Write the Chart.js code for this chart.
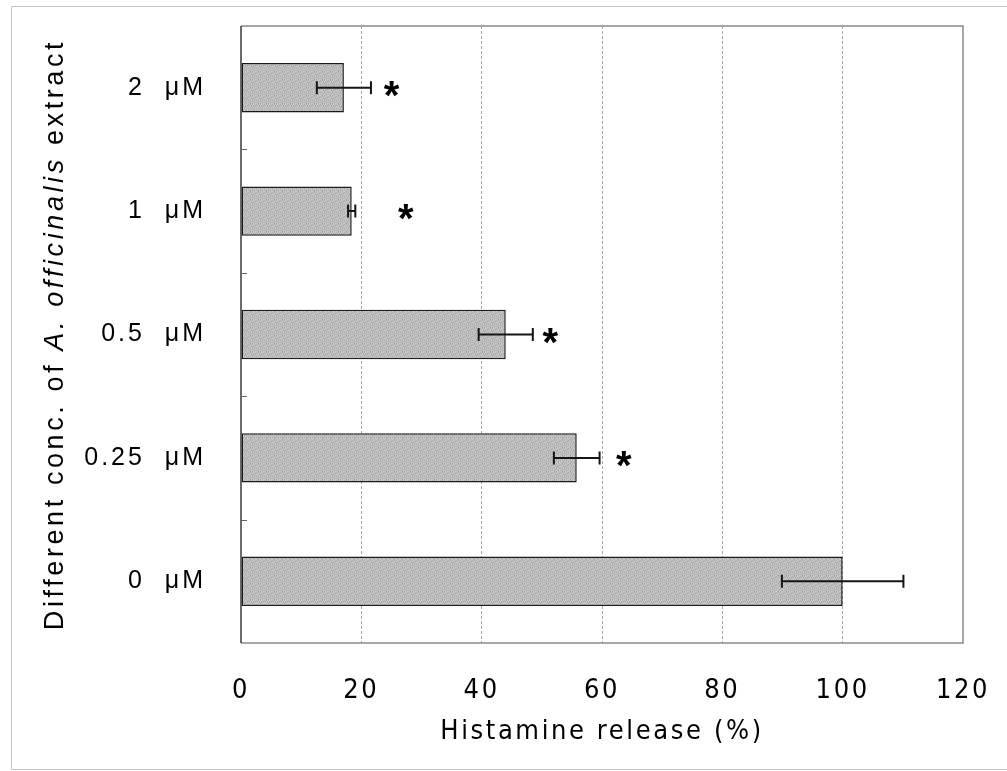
<!DOCTYPE html>
<html><head><meta charset="utf-8">
<script src="https://cdn.jsdelivr.net/npm/chart.js@4/dist/chart.umd.min.js"></script>
<style>html,body{margin:0;padding:0;background:#fff;overflow:hidden}</style>
</head><body>
<canvas id="c" width="1007" height="771" style="display:block;width:1007px;height:771px"></canvas>
<script>
// ---- data ----
const categories = ['2  μM', '1  μM', '0.5  μM', '0.25  μM', '0  μM'];
const releaseValues = [17.1, 18.4, 44.0, 55.8, 100.0];
const errorValues = [4.5, 0.6, 4.5, 3.8, 10.1];
const starPositions = [25.0, 27.4, 51.4, 63.6, null];
const xTickValues = [0, 20, 40, 60, 80, 100, 120];
const xTitle = 'Histamine release (%)';
const yTitleParts = [['Different conc. of ', false], ['A. officinalis', true], [' extract', false]];

// ---- style helpers ----
function makePattern() {
  const rows = [
    '27153846', '61837251', '38526174', '75281436',
    '14672853', '58314627', '26457318', '83162745'
  ];
  const p = document.createElement('canvas');
  p.width = 8; p.height = 8;
  const g = p.getContext('2d');
  for (let r = 0; r < 8; r++) for (let c = 0; c < 8; c++) {
    const v = 156 + Number(rows[r][c]) * 7;
    g.fillStyle = 'rgb(' + v + ',' + v + ',' + v + ')';
    g.fillRect(c, r, 1, 1);
  }
  return document.getElementById('c').getContext('2d').createPattern(p, 'repeat');
}

const spacingPlugin = {
  id: 'spacing',
  beforeDraw(chart) {
    const conf = { x: '2.6px', y: '3px' };
    for (const id of Object.keys(conf)) {
      const s = chart.scales[id];
      if (!s || s._spaced) continue;
      for (const fn of ['drawLabels', 'drawTitle']) {
        const orig = s[fn];
        s[fn] = function (a) { const c = this.ctx; c.save(); c.letterSpacing = conf[id]; orig.call(this, a); c.restore(); };
      }
      s._spaced = true;
    }
  }
};

function zeroPad(s) { s.paddingTop = 0; s.paddingBottom = 0; s.paddingLeft = 0; s.paddingRight = 0; }

const framePlugin = {
  id: 'frame',
  beforeDraw(chart) {
    const c = chart.ctx;
    c.save();
    c.strokeStyle = '#c4c4c4';
    c.lineWidth = 1;
    c.setLineDash([]);
    c.beginPath();
    c.moveTo(1007, 6.5); c.lineTo(11.5, 6.5); c.lineTo(11.5, 769.5); c.lineTo(1007, 769.5);
    c.stroke();
    c.restore();
  },
  afterDatasetsDraw(chart) {
    const c = chart.ctx, a = chart.chartArea, y = chart.scales.y, x = chart.scales.x;
    c.save();
    // error bars
    const meta = chart.getDatasetMeta(0);
    c.strokeStyle = '#151515';
    c.lineWidth = 2;
    meta.data.forEach((bar, i) => {
      const e = errorValues[i];
      const x1 = x.getPixelForValue(releaseValues[i] - e);
      const x2 = x.getPixelForValue(releaseValues[i] + e);
      const yy = bar.y;
      c.beginPath();
      c.moveTo(x1, yy); c.lineTo(x2, yy);
      c.moveTo(x1, yy - 6.5); c.lineTo(x1, yy + 6.5);
      c.moveTo(x2, yy - 6.5); c.lineTo(x2, yy + 6.5);
      c.stroke();
    });
    // asterisks
    c.fillStyle = '#000';
    c.font = 'bold 40px "Liberation Sans", Arial, sans-serif';
    c.textAlign = 'center';
    c.textBaseline = 'alphabetic';
    const m = c.measureText('*');
    const mid = (m.actualBoundingBoxAscent - m.actualBoundingBoxDescent) / 2;
    starPositions.forEach((v, i) => {
      if (v == null) return;
      c.fillText('*', x.getPixelForValue(v), y.getPixelForValue(i) + mid + 1);
    });
    // plot frame
    c.lineWidth = 1.5;
    c.strokeStyle = '#8a8a8a';
    c.beginPath();
    c.moveTo(a.left, a.top); c.lineTo(a.right, a.top); c.lineTo(a.right, a.bottom); c.lineTo(a.left, a.bottom);
    c.stroke();
    c.strokeStyle = '#3a3a3a';
    c.beginPath(); c.moveTo(a.left, a.top); c.lineTo(a.left, a.bottom); c.stroke();
    // inner category tick marks
    c.lineWidth = 1;
    c.strokeStyle = '#666';
    for (let i = 0; i < categories.length - 1; i++) {
      const yb = Math.round((y.getPixelForValue(i) + y.getPixelForValue(i + 1)) / 2) + 0.5;
      c.beginPath(); c.moveTo(a.left, yb); c.lineTo(a.left + 6, yb); c.stroke();
    }
    c.restore();
  },
  afterDraw(chart) {
    // y axis title with italic species name
    const c = chart.ctx, a = chart.chartArea;
    c.save();
    c.fillStyle = '#000';
    c.letterSpacing = '3.6px';
    c.textBaseline = 'alphabetic';
    c.textAlign = 'left';
    const fonts = it => (it ? 'italic ' : '') + '27px "Liberation Sans", Arial, sans-serif';
    let total = 0;
    const widths = yTitleParts.map(([t, it]) => { c.font = fonts(it); const w = c.measureText(t).width; total += w; return w; });
    c.translate(63, (a.top + a.bottom) / 2);
    c.rotate(-Math.PI / 2);
    let pos = -total / 2;
    yTitleParts.forEach(([t, it], i) => { c.font = fonts(it); c.fillText(t, pos, 0); pos += widths[i]; });
    c.restore();
  }
};

new Chart(document.getElementById('c'), {
  type: 'bar',
  data: {
    labels: categories,
    datasets: [{
      data: releaseValues,
      backgroundColor: makePattern(),
      borderColor: '#1a1a1a',
      borderWidth: 1.5,
      borderSkipped: false,
      barPercentage: 0.4,
      categoryPercentage: 1.0
    }]
  },
  options: {
    indexAxis: 'y',
    responsive: false,
    animation: false,
    devicePixelRatio: 1,
    layout: { padding: { top: 26, right: 44, left: 0, bottom: 0 } },
    plugins: { legend: { display: false }, tooltip: { enabled: false } },
    scales: {
      x: {
        type: 'linear',
        min: xTickValues[0],
        max: xTickValues[xTickValues.length - 1],
        afterBuildTicks: s => { s.ticks = xTickValues.map(v => ({ value: v })); },
        afterFit: s => { s.height = 128; zeroPad(s); },
        grid: {
          drawTicks: false,
          lineWidth: 1,
          color: ctx => (ctx.tick && (ctx.tick.value === xTickValues[0] || ctx.tick.value === xTickValues[xTickValues.length - 1])) ? 'rgba(0,0,0,0)' : '#a6a6a6'
        },
        border: { display: false, dash: [3, 2] },
        ticks: {
          autoSkip: false,
          maxRotation: 0,
          padding: 32,
          color: '#000',
          font: { family: '"Liberation Sans Narrow", "DejaVu Sans Condensed", sans-serif', size: 27 }
        },
        title: {
          display: true,
          text: xTitle,
          color: '#000',
          padding: { top: 0, bottom: 23 },
          font: { family: '"Liberation Sans Narrow", "DejaVu Sans Condensed", sans-serif', size: 27 }
        }
      },
      y: {
        afterFit: s => { s.width = 241; zeroPad(s); },
        grid: { display: false },
        border: { display: false },
        ticks: {
          padding: 27,
          color: '#000',
          font: { family: '"Liberation Sans", Arial, sans-serif', size: 25 }
        }
      }
    }
  },
  plugins: [spacingPlugin, framePlugin]
});
</script>
</body></html>
